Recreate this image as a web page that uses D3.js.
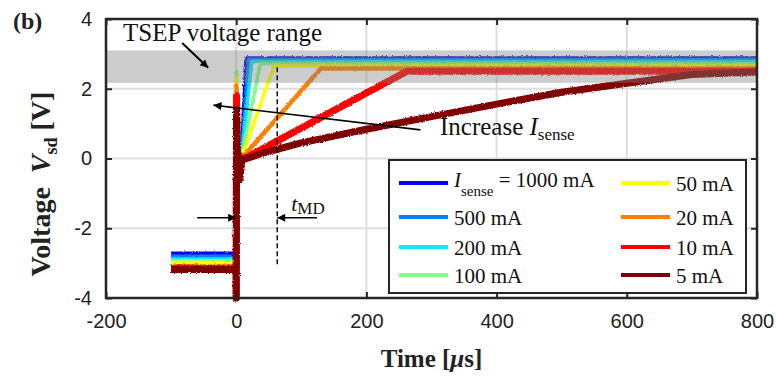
<!DOCTYPE html>
<html>
<head>
<meta charset="utf-8">
<script src="https://cdn.jsdelivr.net/npm/d3@7"></script>
<style>
  body { margin: 0; background: #fff; }
  svg { display: block; }
</style>
</head>
<body>
<div id="chart"></div>
<script>
// series labels and colours (jet)
var names = ["1000 mA", "500 mA", "200 mA", "100 mA", "50 mA", "20 mA", "10 mA", "5 mA"];
var colors = ["#0000f0", "#0080ff", "#10e8ff", "#80ff80", "#ffff00", "#ff8000", "#ff0000", "#800000"];
var widths = [3.5, 3.5, 3.5, 3.5, 3.5, 4.5, 7, 7];

// [time us, voltage V]
var s1000 = [[-100, -2.72], [0, -2.72], [0, -4], [0.5, 1.5], [2, -0.3], [4, 0.1], [6, -0.4], [8, 0], [15, 2.88], [800, 2.88]];
var s500 = [[-100, -2.8], [0, -2.8], [0, -4], [0.5, 1.8], [2, -0.3], [4, 0.1], [6, -0.4], [8, 0], [19, 2.84], [800, 2.84]];
var s200 = [[-100, -2.88], [0, -2.88], [0, -4], [0.5, 2.0], [2, -0.3], [4, 0.1], [6, -0.4], [8, 0], [24, 2.78], [800, 2.78]];
var s100 = [[-100, -2.93], [0, -2.93], [0, -4], [0.5, 2.5], [2, -0.3], [4, 0.1], [6, -0.4], [8, 0], [37, 2.72], [800, 2.72]];
var s50 = [[-100, -2.98], [0, -2.98], [0, -4], [0.5, 2.3], [2, -0.3], [4, 0.1], [6, -0.4], [8, 0], [58, 2.65], [800, 2.65]];
var s20 = [[-100, -3.1], [0, -3.1], [0, -4], [0.5, 2.1], [2, -0.3], [4, 0.1], [6, -0.5], [8, 0], [130, 2.58], [800, 2.58]];
var s10 = [[-100, -3.15], [0, -3.15], [0, -4], [0.5, 1.8], [2, -0.3], [4, 0.1], [6, -0.5], [8, -0.05], [262, 2.5], [800, 2.5]];
var s5 = [[-100, -3.18], [0, -3.18], [0, -4], [0.5, 1.4], [2, -0.3], [4, 0.1], [6, -0.6], [8, -0.05], [40, 0.15], [100, 0.45],
          [200, 0.84], [300, 1.2], [400, 1.56], [500, 1.9], [600, 2.16], [700, 2.41], [800, 2.48]];
var seriesData = [s1000, s500, s200, s100, s50, s20, s10, s5];

var xTicks = [-200, 0, 200, 400, 600, 800];
var yTicks = [-4, -2, 0, 2, 4];
var tsepBand = [2.17, 3.1];
var tMD = 63;

var W = 776, H = 377;
var m = {left: 106, right: 19, top: 19, bottom: 79};

var svg = d3.select("#chart").append("svg")
    .attr("width", W)
    .attr("height", H);

var defs = svg.append("defs");
var filt = defs.append("filter").attr("id", "noise")
    .attr("x", "-5%").attr("y", "-5%").attr("width", "110%").attr("height", "110%");
filt.append("feTurbulence").attr("type", "fractalNoise").attr("baseFrequency", 0.9)
    .attr("numOctaves", 1).attr("seed", 3).attr("result", "t");
filt.append("feDisplacementMap").attr("in", "SourceGraphic").attr("in2", "t")
    .attr("scale", 3).attr("xChannelSelector", "R").attr("yChannelSelector", "G");

var arrowHead = function (id) {
    defs.append("marker").attr("id", id)
        .attr("viewBox", "0 0 10 10").attr("refX", 10).attr("refY", 5)
        .attr("markerWidth", 10).attr("markerHeight", 8)
        .attr("markerUnits", "userSpaceOnUse")
        .attr("orient", "auto")
        .append("path").attr("d", "M0,0 L10,5 L0,10 Z").attr("fill", "#000");
};
arrowHead("arr");

var x = d3.scaleLinear().domain([-200, 800]).range([m.left, W - m.right]);
var y = d3.scaleLinear().domain([-4, 4]).range([H - m.bottom, m.top]);

// grid
svg.append("g").selectAll("line").data(xTicks.slice(1, -1)).enter().append("line")
    .attr("x1", function (d) { return x(d); }).attr("x2", function (d) { return x(d); })
    .attr("y1", y(-4)).attr("y2", y(4))
    .attr("stroke", "#dedede").attr("stroke-width", 2);
svg.append("g").selectAll("line").data(yTicks.slice(1, -1)).enter().append("line")
    .attr("y1", function (d) { return y(d); }).attr("y2", function (d) { return y(d); })
    .attr("x1", x(-200)).attr("x2", x(800))
    .attr("stroke", "#dedede").attr("stroke-width", 2);

// traces
var line = d3.line().x(function (d) { return x(d[0]); }).y(function (d) { return y(d[1]); });
svg.append("g").attr("filter", "url(#noise)")
    .selectAll("path").data(seriesData).enter().append("path")
    .attr("d", line)
    .attr("fill", "none")
    .attr("stroke", function (d, i) { return colors[i]; })
    .attr("stroke-width", function (d, i) { return widths[i]; })
    .attr("stroke-linejoin", "round");

// TSEP band on top, see-through
svg.append("rect")
    .attr("x", x(-200)).attr("width", x(800) - x(-200))
    .attr("y", y(tsepBand[1])).attr("height", y(tsepBand[0]) - y(tsepBand[1]))
    .attr("fill", "#808080").attr("opacity", 0.4);

// axes (box with inner ticks)
var tickFont = function (g) {
    g.selectAll("text").style("font-family", "'Liberation Sans', Arial, sans-serif").style("font-size", "20px").attr("fill", "#222");
    g.select(".domain").remove();
    g.selectAll(".tick line").attr("stroke", "#262626").attr("stroke-width", 2);
};
var fmt = function (d) { return String(d); };
svg.append("g").attr("transform", "translate(0," + y(-4) + ")")
    .call(d3.axisBottom(x).tickValues(xTicks).tickSizeInner(-6).tickPadding(16).tickFormat(fmt))
    .call(tickFont);
svg.append("g").attr("transform", "translate(" + x(-200) + ",0)")
    .call(d3.axisLeft(y).tickValues(yTicks).tickSizeInner(-6).tickPadding(14).tickFormat(fmt))
    .call(tickFont);
svg.append("g").attr("transform", "translate(0," + y(4) + ")")
    .call(d3.axisTop(x).tickValues(xTicks).tickSizeInner(-6).tickFormat(""))
    .call(tickFont);
svg.append("g").attr("transform", "translate(" + x(800) + ",0)")
    .call(d3.axisRight(y).tickValues(yTicks).tickSizeInner(-6).tickFormat(""))
    .call(tickFont);
svg.append("rect")
    .attr("x", x(-200)).attr("y", y(4))
    .attr("width", x(800) - x(-200)).attr("height", y(-4) - y(4))
    .attr("fill", "none").attr("stroke", "#262626").attr("stroke-width", 2.5);

var serif = "'Liberation Serif', 'Times New Roman', serif";

// axis titles
svg.append("text")
    .attr("x", x(300)).attr("y", 367)
    .attr("text-anchor", "middle")
    .style("font-family", serif).style("font-size", "25px").style("font-weight", "bold").attr("fill", "#222")
    .html('Time [<tspan font-style="italic">μ</tspan>s]');
var yt = svg.append("text")
    .attr("transform", "translate(50,184) rotate(-90)")
    .attr("text-anchor", "middle")
    .style("font-family", serif).style("font-size", "28px").style("font-weight", "bold").attr("fill", "#222");
yt.append("tspan").text("Voltage\u00a0\u00a0");
yt.append("tspan").attr("font-style", "italic").text("V");
yt.append("tspan").attr("font-size", "18px").attr("dy", 7).text("sd");
yt.append("tspan").attr("dy", -7).text(" [V]");

svg.append("text")
    .attr("x", 13).attr("y", 29)
    .style("font-family", serif).style("font-size", "24px").style("font-weight", "bold").attr("fill", "#222")
    .text("(b)");

// TSEP label + arrow
svg.append("text")
    .attr("x", 123).attr("y", 41)
    .style("font-family", serif).style("font-size", "25px").attr("fill", "#111")
    .text("TSEP voltage range");
svg.append("line")
    .attr("x1", x(-83)).attr("y1", y(3.31)).attr("x2", x(-43)).attr("y2", y(2.6))
    .attr("stroke", "#000").attr("stroke-width", 2).attr("marker-end", "url(#arr)");

// Increase I_sense arrow
svg.append("line")
    .attr("x1", x(283)).attr("y1", y(0.82)).attr("x2", x(-35)).attr("y2", y(1.53))
    .attr("stroke", "#000").attr("stroke-width", 1.6).attr("marker-end", "url(#arr)");
var inc = svg.append("text")
    .attr("x", 440).attr("y", 135)
    .style("font-family", serif).style("font-size", "25px").attr("fill", "#111");
inc.append("tspan").text("Increase ");
inc.append("tspan").attr("font-style", "italic").text("I");
inc.append("tspan").attr("font-size", "17px").attr("dy", 5).text("sense");

// t_MD marker
svg.append("line")
    .attr("x1", x(tMD)).attr("x2", x(tMD)).attr("y1", y(2.62)).attr("y2", y(-3.1))
    .attr("stroke", "#000").attr("stroke-width", 1.4).attr("stroke-dasharray", "5,3");
svg.append("line")
    .attr("x1", x(-60)).attr("y1", y(-1.7)).attr("x2", x(0)).attr("y2", y(-1.7))
    .attr("stroke", "#000").attr("stroke-width", 1.4).attr("marker-end", "url(#arr)");
svg.append("line")
    .attr("x1", x(124)).attr("y1", y(-1.7)).attr("x2", x(tMD)).attr("y2", y(-1.7))
    .attr("stroke", "#000").attr("stroke-width", 1.4).attr("marker-end", "url(#arr)");
var tm = svg.append("text")
    .attr("x", x(tMD) + 14).attr("y", 211)
    .style("font-family", serif).style("font-size", "22px").attr("fill", "#111");
tm.append("tspan").attr("font-style", "italic").text("t");
tm.append("tspan").attr("font-size", "17px").attr("dy", 3).text("MD");

// legend
var lg = svg.append("g");
lg.append("rect")
    .attr("x", 389).attr("y", 160).attr("width", 357).attr("height", 133)
    .attr("fill", "#fff").attr("stroke", "#262626").attr("stroke-width", 2);
var rowY = [183, 217, 247, 275];
var colX = [399, 621];
names.forEach(function (n, i) {
    var cx = colX[Math.floor(i / 4)], cy = rowY[i % 4];
    lg.append("line")
        .attr("x1", cx).attr("x2", cx + 49).attr("y1", cy).attr("y2", cy)
        .attr("stroke", colors[i]).attr("stroke-width", 4);
    var t = lg.append("text")
        .attr("x", cx + 55).attr("y", cy + 8)
        .style("font-family", serif).style("font-size", "21px").attr("fill", "#111");
    if (i === 0) {
        t.attr("y", cy + 4);
        t.append("tspan").attr("font-style", "italic").text("I");
        t.append("tspan").attr("font-size", "15px").attr("dy", 9).text("sense");
        t.append("tspan").attr("dy", -9).text(" = " + n);
    } else {
        t.text(n);
    }
});
</script>
</body>
</html>
